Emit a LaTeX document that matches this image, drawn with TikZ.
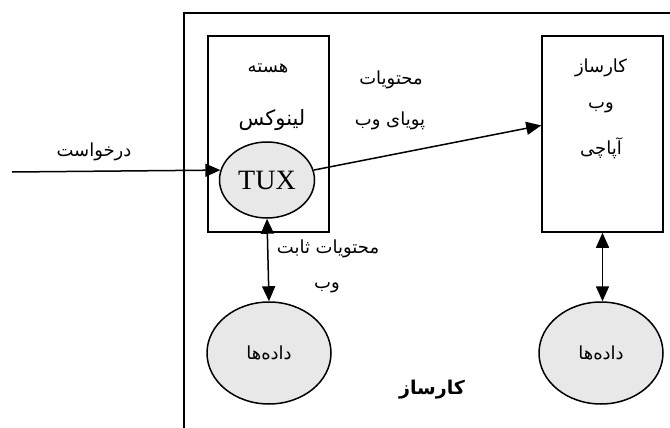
\documentclass[tikz,border=0pt]{standalone}
\usepackage{fontspec}
\setmainfont{Liberation Serif}
\newfontfamily\farsi[Script=Arabic]{DejaVu Sans}
\TeXXeTstate=1
\usetikzlibrary{arrows.meta,shapes.geometric}
\newcommand{\fa}[1]{{\farsi\beginR #1\endR}}

\begin{document}
\begin{tikzpicture}[x=1pt,y=-1pt,line width=1.5pt,
  matn/.style={inner sep=0pt,font=\fontsize{18}{20}\selectfont},
  jabe/.style={draw,rectangle,minimum width=121pt,minimum height=196pt},
  bayzi/.style={draw,ellipse,fill=gray!18},
  flesh/.style={-{Triangle[length=15pt,width=13pt]}},
  doflesh/.style={{Triangle[length=15pt,width=13pt]}-{Triangle[length=15pt,width=13pt]}}]
\useasboundingbox (0,0) rectangle (670,428);

% karsaz (outer frame)
\draw (670,13) -- (184,13) -- (184,428);

% boxes
\node[jabe] (hasteh) at (268.5,134) {};
\node[jabe] (apache) at (602.5,134) {};

\node[bayzi,minimum width=95pt,minimum height=76pt,font=\fontsize{28}{30}\selectfont] (tux) at (267,180) {TUX};
\node[bayzi,minimum width=124pt,minimum height=102pt] (dade1) at (269,353) {};
\node[bayzi,minimum width=124pt,minimum height=102pt] (dade2) at (601,353) {};

% texts
\node[matn] (t-hasteh) at (268,68) {\fa{هسته}};
\node[matn,font=\fontsize{21}{23}\selectfont] (t-linux) at (272,120) {\fa{لینوکس}};
\node[matn] (t-req) at (94,152) {\fa{درخواست}};
\node[matn] (t-dyn1) at (391,80) {\fa{محتویات}};
\node[matn] (t-dyn2) at (390,121) {\fa{پویای وب}};
\node[matn] (t-ap1) at (601,68) {\fa{کارساز}};
\node[matn] (t-ap2) at (601,108) {\fa{وب}};
\node[matn] (t-ap3) at (601,148) {\fa{آپاچی}};
\node[matn] (t-st1) at (328,249) {\fa{محتویات ثابت}};
\node[matn] (t-st2) at (327,288) {\fa{وب}};
\node[matn] at (dade1) {\fa{داده‌ها}};
\node[matn] at (dade2) {\fa{داده‌ها}};
\node[matn,font=\fontsize{19}{21}\selectfont\bfseries] (t-karsaz) at (432,390) {\fa{کارساز}};

% connectors
\coordinate (vorudi) at (12,172);
\draw[flesh] (vorudi) -- (tux.168);
\draw[flesh] (tux.12) -- (apache.172);
\draw[doflesh] (tux.south) -- (dade1.north);
\draw[doflesh] (apache.south) -- (apache.south |- dade2.north);

\end{tikzpicture}
\end{document}
